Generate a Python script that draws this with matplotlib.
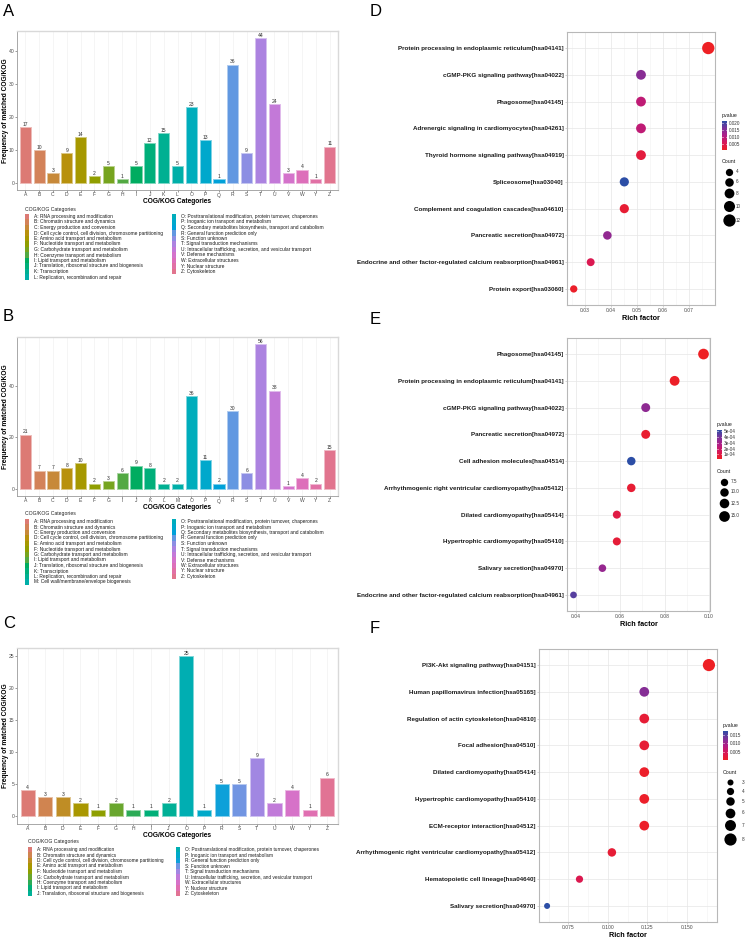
import matplotlib
matplotlib.use('Agg')
import matplotlib.pyplot as plt
import numpy as np
from matplotlib.colors import LinearSegmentedColormap, Normalize, to_rgb
from matplotlib.patches import Rectangle
from matplotlib.colorbar import ColorbarBase
from matplotlib.ticker import AutoMinorLocator, FormatStrFormatter

plt.rcParams['font.family'] = ['Liberation Sans', 'DejaVu Sans']

W, H = 748, 939

# --- COG/KOG category names ---
cog_desc = {
    'A': 'RNA processing and modification',
    'B': 'Chromatin structure and dynamics',
    'C': 'Energy production and conversion',
    'D': 'Cell cycle control, cell division, chromosome partitioning',
    'E': 'Amino acid transport and metabolism',
    'F': 'Nucleotide transport and metabolism',
    'G': 'Carbohydrate transport and metabolism',
    'H': 'Coenzyme transport and metabolism',
    'I': 'Lipid transport and metabolism',
    'J': 'Translation, ribosomal structure and biogenesis',
    'K': 'Transcription',
    'L': 'Replication, recombination and repair',
    'M': 'Cell wall/membrane/envelope biogenesis',
    'O': 'Posttranslational modification, protein turnover, chaperones',
    'P': 'Inoganic ion transport and metabolism',
    'Q': 'Secondary metabolites biosynthesis, transport and catabolism',
    'R': 'General function prediction only',
    'S': 'Function unknown',
    'T': 'Signal transduction mechanisms',
    'U': 'Intracellular trafficking, secretion, and vesicular transport',
    'V': 'Defense mechanisms',
    'W': 'Extracellular structures',
    'Y': 'Nuclear structure',
    'Z': 'Cytoskeleton',
}

# --- panel A ---
cats_a = ['A', 'B', 'C', 'D', 'E', 'F', 'G', 'H', 'I', 'J', 'K', 'L', 'O', 'P', 'Q', 'R', 'S', 'T', 'U', 'V', 'W', 'Y', 'Z']
vals_a = [17, 10, 3, 9, 14, 2, 5, 1, 5, 12, 15, 5, 23, 13, 1, 36, 9, 44, 24, 3, 4, 1, 11]
yticks_a = [0, 10, 20, 30, 40]

# --- panel B ---
cats_b = ['A', 'B', 'C', 'D', 'E', 'F', 'G', 'I', 'J', 'K', 'L', 'M', 'O', 'P', 'Q', 'R', 'S', 'T', 'U', 'V', 'W', 'Y', 'Z']
vals_b = [21, 7, 7, 8, 10, 2, 3, 6, 9, 8, 2, 2, 36, 11, 2, 30, 6, 56, 38, 1, 4, 2, 15]
yticks_b = [0, 20, 40]

# --- panel C ---
cats_c = ['A', 'B', 'D', 'E', 'F', 'G', 'H', 'I', 'J', 'O', 'P', 'R', 'S', 'T', 'U', 'W', 'Y', 'Z']
vals_c = [4, 3, 3, 2, 1, 2, 1, 1, 2, 25, 1, 5, 5, 9, 2, 4, 1, 6]
yticks_c = [0, 5, 10, 15, 20, 25]

# --- panel D ---
terms_d = ['Protein processing in endoplasmic reticulum[hsa04141]',
           'cGMP-PKG signaling pathway[hsa04022]',
           'Phagosome[hsa04145]',
           'Adrenergic signaling in cardiomyocytes[hsa04261]',
           'Thyroid hormone signaling pathway[hsa04919]',
           'Spliceosome[hsa03040]',
           'Complement and coagulation cascades[hsa04610]',
           'Pancreatic secretion[hsa04972]',
           'Endocrine and other factor-regulated calcium reabsorption[hsa04961]',
           'Protein export[hsa03060]']
rich_d = [0.0774, 0.0516, 0.0516, 0.0516, 0.0516, 0.0452, 0.0452, 0.0387, 0.0323, 0.0258]
count_d = [12, 8, 8, 8, 8, 7, 7, 6, 5, 4]
pval_d = [0.0003, 0.015, 0.009, 0.009, 0.003, 0.0217, 0.002, 0.014, 0.005, 0.001]
xticks_d = [0.03, 0.04, 0.05, 0.06, 0.07]
ptick_d = [0.005, 0.010, 0.015, 0.020]
cbreaks_d = [4, 6, 8, 10, 12]

# --- panel E ---
terms_e = ['Phagosome[hsa04145]',
           'Protein processing in endoplasmic reticulum[hsa04141]',
           'cGMP-PKG signaling pathway[hsa04022]',
           'Pancreatic secretion[hsa04972]',
           'Cell adhesion molecules[hsa04514]',
           'Arrhythmogenic right ventricular cardiomyopathy[hsa05412]',
           'Dilated cardiomyopathy[hsa05414]',
           'Hypertrophic cardiomyopathy[hsa05410]',
           'Salivary secretion[hsa04970]',
           'Endocrine and other factor-regulated calcium reabsorption[hsa04961]']
rich_e = [0.0975, 0.0845, 0.0715, 0.0715, 0.0650, 0.0650, 0.0585, 0.0585, 0.0520, 0.0390]
count_e = [15, 13, 11, 11, 10, 10, 9, 9, 8, 6]
pval_e = [0.00002, 0.00003, 0.00035, 0.00005, 0.00052, 0.00006, 0.0001, 0.00007, 0.00033, 0.00045]
xticks_e = [0.04, 0.06, 0.08, 0.10]
ptick_e = [0.0001, 0.0002, 0.0003, 0.0004, 0.0005]
cbreaks_e = [7.5, 10.0, 12.5, 15.0]

# --- panel F ---
terms_f = ['PI3K-Akt signaling pathway[hsa04151]',
           'Human papillomavirus infection[hsa05165]',
           'Regulation of actin cytoskeleton[hsa04810]',
           'Focal adhesion[hsa04510]',
           'Dilated cardiomyopathy[hsa05414]',
           'Hypertrophic cardiomyopathy[hsa05410]',
           'ECM-receptor interaction[hsa04512]',
           'Arrhythmogenic right ventricular cardiomyopathy[hsa05412]',
           'Hematopoietic cell lineage[hsa04640]',
           'Salivary secretion[hsa04970]']
rich_f = [0.1639, 0.1230, 0.1230, 0.1230, 0.1230, 0.1230, 0.1230, 0.1025, 0.0820, 0.0615]
count_f = [8, 6, 6, 6, 6, 6, 6, 5, 4, 3]
pval_f = [0.0005, 0.012, 0.002, 0.002, 0.001, 0.001, 0.001, 0.002, 0.004, 0.017]
xticks_f = [0.075, 0.100, 0.125, 0.150]
ptick_f = [0.005, 0.010, 0.015]
cbreaks_f = [3, 4, 5, 6, 7, 8]

pv_cmap = LinearSegmentedColormap.from_list(
    'pv', ['#EE2024', '#D81857', '#B01D86', '#7A3299', '#2C4EA6'])

fig = plt.figure(figsize=(W / 100, H / 100), dpi=100)


def px_axes(l, t, r, b):
    return fig.add_axes([l / W, 1 - b / H, (r - l) / W, (b - t) / H])


def hue_pal(n, c=72, l=62):
    """ggplot2-like hue palette (HCL -> sRGB), a bit muted like the original."""
    M = np.array([[3.2406, -1.5372, -0.4986],
                  [-0.9689, 1.8758, 0.0415],
                  [0.0557, -0.2040, 1.0570]])
    Xn, Yn, Zn = 0.95047, 1.0, 1.08883
    un = 4 * Xn / (Xn + 15 * Yn + 3 * Zn)
    vn = 9 * Yn / (Xn + 15 * Yn + 3 * Zn)
    out = []
    for h in np.linspace(15, 375, n + 1)[:-1]:
        hr = np.deg2rad(h)
        u, v = c * np.cos(hr), c * np.sin(hr)
        Y = ((l + 16) / 116) ** 3
        up = u / (13 * l) + un
        vp = v / (13 * l) + vn
        X = 9 * Y * up / (4 * vp)
        Z = (12 - 3 * up - 20 * vp) * Y / (4 * vp)
        lin = M @ np.array([X, Y, Z])
        rgb = np.where(lin <= 0.0031308, 12.92 * lin, 1.055 * np.clip(lin, 0, None) ** (1 / 2.4) - 0.055)
        out.append(tuple(np.clip(rgb, 0, 1)))
    return out


def lighten(col, amt):
    r = np.array(to_rgb(col))
    return tuple(r + (1 - r) * amt)


def draw_cog(letter, letter_y, box, cats, vals, yticks, leg_x, leg_y, col2_x, leg_fs):
    l, t, r, b = box
    fig.text(3 / W, 1 - letter_y / H, letter, fontsize=12, va='top', ha='left')
    ax = px_axes(*box)
    n = len(cats)
    cols = hue_pal(n)
    xs = np.arange(n)
    ax.bar(xs, vals, width=0.8, color=cols,
           edgecolor=[lighten(c, 0.5) for c in cols], linewidth=0.7, zorder=2)
    for xi, v in zip(xs, vals):
        ax.annotate(str(v), (xi, v), xytext=(0, 0.2), textcoords='offset points',
                    ha='center', va='bottom', fontsize=3.6, color='#333333')
    top = max(vals)
    ax.set_xlim(-0.6, n - 0.4)
    ax.set_ylim(-0.05 * top, 1.05 * top)
    ax.set_xticks(xs)
    ax.set_xticklabels(cats)
    ax.set_yticks(yticks)
    ax.tick_params(labelsize=3.6, colors='#4d4d4d', length=1.2, width=0.4, pad=0.6)
    ax.grid(axis='x', color='#f2f2f2', lw=0.5)
    ax.set_axisbelow(True)
    for side in ['top', 'right']:
        ax.spines[side].set_color('#d9d9d9')
        ax.spines[side].set_linewidth(1.0)
    for side in ['left', 'bottom']:
        ax.spines[side].set_color('#9a9a9a')
        ax.spines[side].set_linewidth(0.6)
    ax.set_xlabel('COG/KOG Categories', fontsize=4.8, fontweight='bold', labelpad=0.5)
    fig.text(5.5 / W, 1 - (t + b) / 2 / H, 'Frequency of matched COG/KOG', rotation=90,
             ha='center', va='center', fontsize=4.8, fontweight='bold')

    # legend
    fig.text(leg_x / W, 1 - leg_y / H, 'COG/KOG Categories', fontsize=3.7,
             va='center', color='#222222')
    half = int(np.ceil(n / 2))
    step = 5.5
    for i, (c, col) in enumerate(zip(cats, cols)):
        colno, row = divmod(i, half)
        kx = leg_x if colno == 0 else col2_x
        ky = leg_y + 7.5 + row * step
        fig.patches.append(Rectangle((kx / W, 1 - (ky + step / 2) / H), 4 / W, step / H,
                                     transform=fig.transFigure, facecolor=col, edgecolor='none'))
        fig.text((kx + 9) / W, 1 - ky / H, f'{c}: {cog_desc[c]}', fontsize=leg_fs,
                 va='center', color='#1a1a1a')
    return ax


def draw_enrich(letter, letter_y, box, terms, rich, counts, pvals, xticks, xfmt,
                diam, cbar_box, pticks, pfmt, cbreaks, count_title_y, dot_x, lab_x):
    l, t, r, b = box
    fig.text(370 / W, 1 - letter_y / H, letter, fontsize=12, va='top', ha='left')
    ax = px_axes(*box)
    n = len(terms)
    ys = np.arange(n)[::-1]
    cmin, cmax = min(counts), max(counts)

    def msize(c):
        d = np.interp(c, [cmin, cmax], diam)
        return (d * 0.72) ** 2

    norm = Normalize(min(pvals), max(pvals))
    ax.scatter(rich, ys, s=[msize(c) for c in counts], c=pvals, cmap=pv_cmap, norm=norm,
               linewidths=0, zorder=3)
    lo, hi = min(rich), max(rich)
    pad = 0.05 * (hi - lo)
    ax.set_xlim(lo - pad, hi + pad)
    ax.set_ylim(-0.6, n - 0.4)
    ax.set_yticks(ys)
    ax.set_yticklabels(terms, fontweight='bold', fontsize=4.5, color='#1a1a1a')
    ax.set_xticks(xticks)
    ax.xaxis.set_major_formatter(FormatStrFormatter(xfmt))
    ax.xaxis.set_minor_locator(AutoMinorLocator(2))
    ax.tick_params(axis='x', labelsize=3.6, colors='#4d4d4d', length=1.5, width=0.4, pad=1)
    ax.tick_params(axis='y', length=1.5, width=0.4, color='#b3b3b3', pad=1)
    ax.tick_params(axis='x', which='minor', length=0)
    ax.tick_params(axis='x', color='#b3b3b3')
    ax.grid(which='major', color='#e6e6e6', lw=0.5)
    ax.grid(which='minor', axis='x', color='#f2f2f2', lw=0.4)
    ax.set_axisbelow(True)
    for s in ax.spines.values():
        s.set_color('#b8b8b8')
        s.set_linewidth(0.8)
    ax.set_xlabel('Rich factor', fontsize=5.2, fontweight='bold', labelpad=1)

    # colour bar
    cl, ct, cr, cb = cbar_box
    fig.text(cl / W, 1 - (ct - 5.5) / H, 'pvalue', fontsize=3.8, va='center', color='#1a1a1a')
    cax = px_axes(*cbar_box)
    cbar = ColorbarBase(cax, cmap=pv_cmap, norm=norm, orientation='vertical')
    cbar.outline.set_visible(False)
    cbar.set_ticks(pticks)
    cbar.set_ticklabels([pfmt(p) for p in pticks])
    cax.tick_params(length=0, labelsize=3.3, pad=1.5, colors='#333333')
    for p in pticks:
        cax.plot([0, 0.2], [p, p], color='white', lw=0.4, transform=cax.get_yaxis_transform())
        cax.plot([0.8, 1], [p, p], color='white', lw=0.4, transform=cax.get_yaxis_transform())

    # count legend
    fig.text(cl / W, 1 - count_title_y / H, 'Count', fontsize=3.8, va='center', color='#1a1a1a')
    yy = None
    prev = None
    for c in cbreaks:
        d = np.interp(c, [cmin, cmax], diam)
        yy = count_title_y + 10 if yy is None else yy + (prev + d) / 2 + 2.3
        prev = d
        ax.scatter([dot_x / W], [1 - yy / H], s=msize(c), color='black', linewidths=0,
                   transform=fig.transFigure, clip_on=False)
        lab = f'{c:.1f}' if isinstance(c, float) else str(c)
        fig.text(lab_x / W, 1 - yy / H, lab, fontsize=3.3, va='center', color='#333333')
    return ax


draw_cog('A', 4, (17, 31, 338, 190), cats_a, vals_a, yticks_a, 25, 209, 172, 3.5)
draw_cog('B', 309, (17, 337, 338, 496), cats_b, vals_b, yticks_b, 25, 514, 172, 3.5)
draw_cog('C', 616, (17, 648, 338, 824), cats_c, vals_c, yticks_c, 28, 842, 176, 3.4)

fmt3 = lambda p: f'{p:.3f}'
fmte = lambda p: f'{p:.0e}'
draw_enrich('D', 4, (567, 32, 715, 305), terms_d, rich_d, count_d, pval_d, xticks_d, '%.2f',
            (7.3, 12.3), (722, 121, 727, 150), ptick_d, fmt3, cbreaks_d, 161.7, 728.5, 736)
draw_enrich('E', 312, (567, 338, 710, 611), terms_e, rich_e, count_e, pval_e, xticks_e, '%.2f',
            (6.7, 10.7), (717, 430, 722, 459), ptick_e, fmte, cbreaks_e, 471.7, 724, 731)
draw_enrich('F', 621, (539, 649, 717, 922), terms_f, rich_f, count_f, pval_f, xticks_f, '%.3f',
            (6.0, 12.2), (723, 731, 728, 760), ptick_f, fmt3, cbreaks_f, 772.3, 730, 741.5)

fig.savefig('out.png', dpi=100)
